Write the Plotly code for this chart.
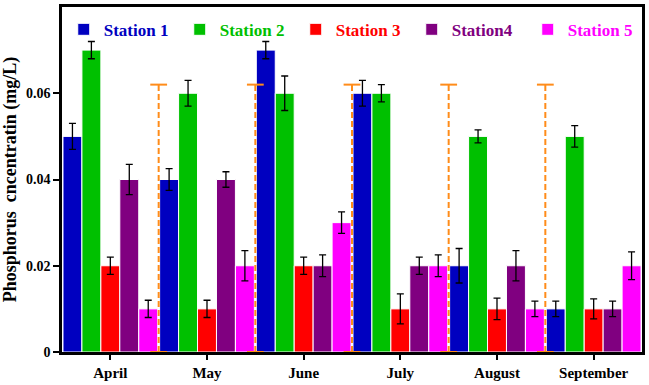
import plotly.graph_objects as go

months = ["April", "May", "June", "July", "August", "September"]
stations = ["Station 1", "Station 2", "Station 3", "Station4", "Station 5"]
colors = ["#0000C0", "#00C000", "#FF0000", "#800080", "#FF00FF"]

s1 = [0.05, 0.04, 0.07, 0.06, 0.02, 0.01]
s2 = [0.07, 0.06, 0.06, 0.06, 0.05, 0.05]
s3 = [0.02, 0.01, 0.02, 0.01, 0.01, 0.01]
s4 = [0.04, 0.04, 0.02, 0.02, 0.02, 0.01]
s5 = [0.01, 0.02, 0.03, 0.02, 0.01, 0.02]

e1 = [0.003, 0.0025, 0.002, 0.003, 0.004, 0.0018]
e2 = [0.002, 0.003, 0.004, 0.002, 0.0015, 0.0025]
e3 = [0.002, 0.002, 0.002, 0.0035, 0.0025, 0.0023]
e4 = [0.0035, 0.0018, 0.0025, 0.002, 0.0035, 0.0018]
e5 = [0.002, 0.0035, 0.0025, 0.0025, 0.0018, 0.0032]

sep_x = [0.5, 1.5, 2.5, 3.5, 4.5]
sep_top = [0.062, 0.062, 0.062, 0.062, 0.062]

yticks = [0, 0.02, 0.04, 0.06]
yticklabels = ["0", "0.02", "0.04", "0.06"]

xpos = list(range(len(months)))
series = [s1, s2, s3, s4, s5]
errs = [e1, e2, e3, e4, e5]

font_fam = "Liberation Serif, Times New Roman, serif"

fig = go.Figure()
for name, col, vals, er in zip(stations, colors, series, errs):
    fig.add_trace(go.Bar(
        x=xpos, y=vals, name=f"<b><span style='color:{col}'>{name}</span></b>",
        marker=dict(color=col, line=dict(color="white", width=1)),
        error_y=dict(type="data", array=er, color="black", thickness=1.3, width=3.5),
    ))

sx, sy = [], []
for x, t in zip(sep_x, sep_top):
    sx += [x, x, None]
    sy += [0, t, None]
fig.add_trace(go.Scatter(
    x=sx, y=sy, mode="lines+markers", showlegend=False, hoverinfo="skip",
    line=dict(color="#FF8C1A", width=2, dash="6px,3px"),
    marker=dict(symbol="line-ew-open", size=12, color="#FF8C1A", line=dict(color="#FF8C1A", width=2)),
))

fig.update_layout(
    width=649, height=385,
    margin=dict(l=62, r=4, t=5, b=29),
    barmode="group", bargap=0.02, bargroupgap=0,
    plot_bgcolor="white", paper_bgcolor="white",
    font=dict(family=font_fam, size=14, color="black"),
    legend=dict(orientation="h", x=0.003, y=0.934, xanchor="left", yanchor="middle",
                font=dict(family=font_fam, size=17), bgcolor="rgba(0,0,0,0)",
                entrywidth=71, itemwidth=30),
    xaxis=dict(range=[-0.5, 5.5], tickvals=xpos,
               ticktext=[f"<b>{m}</b>" for m in months],
               ticks="outside", ticklen=5, tickwidth=2, tickcolor="black",
               showline=True, linecolor="black", linewidth=2.5, mirror=True,
               showgrid=False, zeroline=False,
               tickfont=dict(family=font_fam, size=15)),
    yaxis=dict(range=[0, 0.08], tickvals=yticks,
               ticktext=[f"<b>{t}</b>" for t in yticklabels],
               ticks="outside", ticklen=6, tickwidth=2, tickcolor="black",
               showline=True, linecolor="black", linewidth=2.5, mirror=True,
               showgrid=False, zeroline=False,
               tickfont=dict(family=font_fam, size=14),
               title=dict(text="<b>Phosphorus  cncentratin (mg/L)</b>",
                          font=dict(family=font_fam, size=18), standoff=6)),
)

fig.write_html("out.html", config={"displayModeBar": False},
               post_script="document.body.style.margin='0';")
